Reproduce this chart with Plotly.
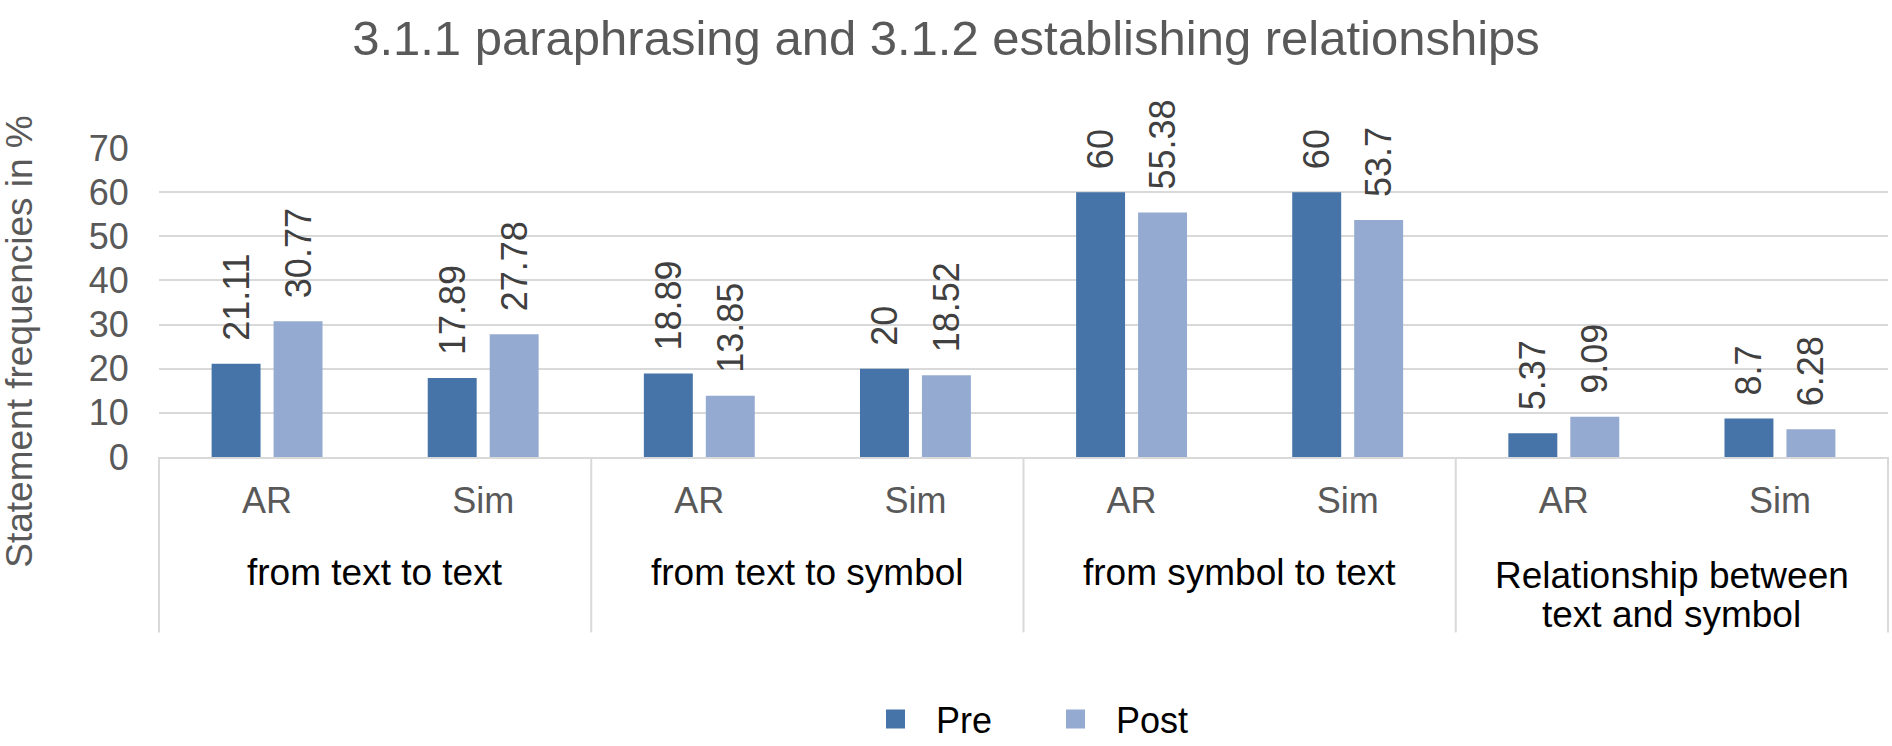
import plotly.graph_objects as go

groups = ["from text to text", "from text to symbol", "from symbol to text",
          "Relationship between<br>text and symbol"]
subgroups = ["AR", "Sim"]
pre = [21.11, 17.89, 18.89, 20, 60, 60, 5.37, 8.7]
post = [30.77, 27.78, 13.85, 18.52, 55.38, 53.7, 9.09, 6.28]
series_names = ["Pre", "Post"]
colors = ["#4673A8", "#95AAD1"]

tick_text = [s for g in groups for s in subgroups]
xpos = list(range(len(tick_text)))

W, H = 1892, 746
ML, MR, MT, MB = 159, 4, 148, 289
plot_h = H - MT - MB
FONT = "Liberation Sans, Arial"

fig = go.Figure()
for name, vals, col in zip(series_names, [pre, post], colors):
    fig.add_trace(go.Bar(
        x=xpos, y=vals, name=name, marker=dict(color=col, line=dict(width=0)),
        texttemplate="\u00a0\u00a0%{y}", textposition="outside", textangle=-90,
        textfont=dict(size=36, color="#404040", family=FONT),
        constraintext="none", cliponaxis=False, showlegend=False,
    ))
    fig.add_trace(go.Scatter(
        x=[None], y=[None], mode="markers", name=name,
        marker=dict(symbol="square", size=16, color=col, line=dict(width=3, color=col)),
        showlegend=True,
    ))

shapes = []
ngroups = len(groups)
for i in range(ngroups + 1):
    shapes.append(dict(type="line", xref="paper", yref="paper",
                       x0=i / ngroups, x1=i / ngroups, y0=0, y1=-(632.7 - 457.3) / plot_h,
                       line=dict(color="#D9D9D9", width=2)))

annotations = []
for i, g in enumerate(groups):
    lines = g.split("<br>")
    top = 550 if len(lines) == 1 else 553
    for j, ln in enumerate(lines):
        annotations.append(dict(
            text=ln, xref="x", yref="paper", x=2 * i + 0.5,
            y=-(top - 457.3 + j * 39.5) / plot_h, yanchor="top", xanchor="center",
            showarrow=False, font=dict(size=37, color="#000000", family=FONT),
        ))
annotations.append(dict(
    text="Statement frequencies in %", xref="paper", yref="paper",
    x=(20 - ML) / (W - ML - MR), y=(457.3 - 342) / plot_h, textangle=-90,
    xanchor="center", yanchor="middle", showarrow=False,
    font=dict(size=37, color="#595959", family=FONT),
))

fig.update_layout(
    width=W, height=H, margin=dict(l=ML, r=MR, t=MT, b=MB),
    paper_bgcolor="white", plot_bgcolor="white",
    font=dict(family=FONT, size=36, color="#595959"),
    title=dict(text="3.1.1 paraphrasing and 3.1.2 establishing relationships",
               x=0.5, xref="container", xanchor="center",
               y=1 - 38 / H, yref="container", yanchor="middle",
               font=dict(size=49, color="#595959")),
    barmode="group", bargap=0.4266, bargroupgap=0.21,
    xaxis=dict(range=[-0.5, 7.5], tickvals=xpos, ticktext=tick_text,
               showgrid=False, zeroline=False, showline=True, linecolor="#D9D9D9", linewidth=2,
               ticks="outside", ticklen=11, tickcolor="rgba(0,0,0,0)",
               tickfont=dict(size=36, color="#595959")),
    yaxis=dict(range=[0, 70], dtick=10, showgrid=True, gridcolor="#D9D9D9", gridwidth=2,
               zeroline=False, showline=False, ticks="outside", ticklen=22,
               tickcolor="rgba(0,0,0,0)", tickfont=dict(size=36, color="#595959")),
    legend=dict(orientation="h", x=(855 - ML) / (W - ML - MR), xanchor="left",
                y=1 - 719 / H, yref="container", yanchor="middle",
                itemwidth=71, entrywidth=94, entrywidthmode="pixels",
                font=dict(size=36, color="#000000"), bgcolor="rgba(0,0,0,0)"),
    shapes=shapes, annotations=annotations,
)

fig.write_html("out.html", config={"displayModeBar": False},
               post_script="document.body.style.margin='0';document.body.style.overflow='hidden';")
